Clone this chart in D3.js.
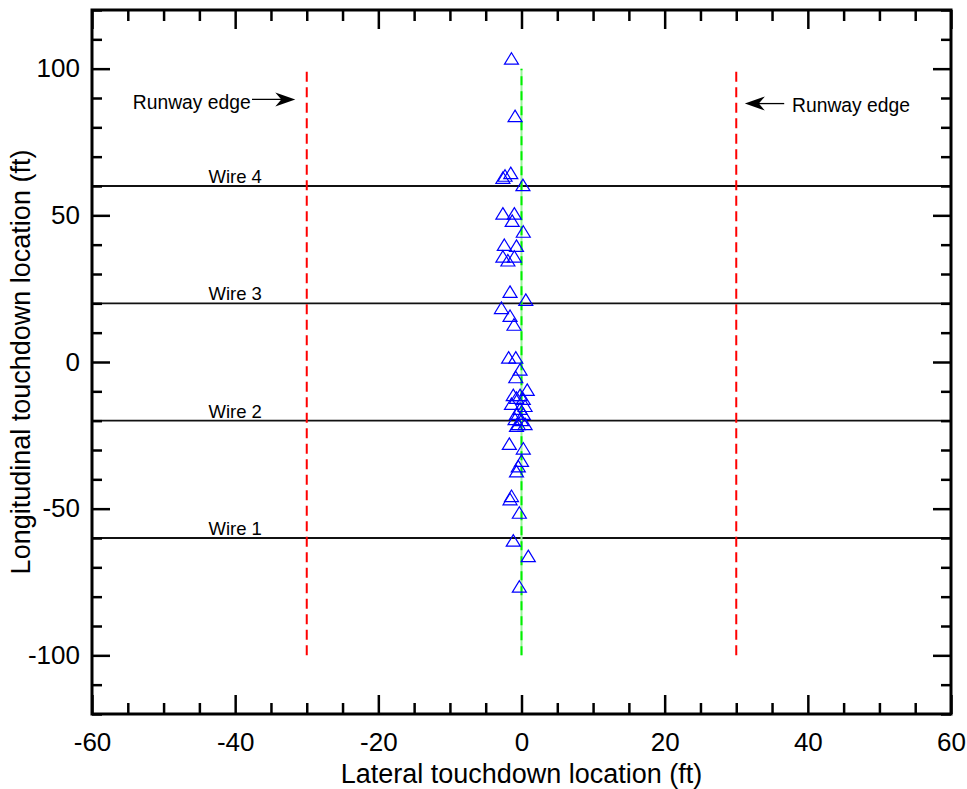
<!DOCTYPE html>
<html>
<head>
<meta charset="utf-8">
<script src="https://cdn.jsdelivr.net/npm/d3@7"></script>
<style>
  html, body { margin: 0; padding: 0; background: #fff; }
  svg { display: block; font-family: "Liberation Sans", Arial, Helvetica, sans-serif; }
</style>
</head>
<body>
<svg id="chart" width="967" height="789"></svg>
<script>
// ---- data ----
const lateralX = [
  -1.4, -0.9, -2.6, -2.3, -1.5, 0.2, -2.6, -1.0, -1.3, 0.25,
  -2.4, -0.7, -2.6, -1.0, -1.9, -1.6, 0.6, -2.8, -1.6, -1.05,
  -1.8, -0.8, -0.2, -0.8, 0.8, -1.15, -0.2, -0.7, 0.25, -1.4,
  0.5, -0.2, 0.25, -0.7, -0.9, 0.0, 0.5, -0.45, -0.7, -1.7,
  0.25, 0.0, -0.45, -0.7, -1.4, -1.6, -0.3, -1.15, 0.95, -0.3
];
const longitudinalY = [
  103.4, 83.8, 62.8, 63.5, 64.4, 60.3, 50.6, 50.6, 48.1, 44.4,
  39.9, 39.6, 35.9, 35.9, 34.6, 23.9, 21.2, 18.4, 15.7, 12.7,
  1.5, 1.5, -2.6, -5.2, -9.5, -11.3, -11.3, -12.2, -12.6, -14.3,
  -15.0, -16.0, -17.7, -17.7, -19.5, -19.8, -21.2, -21.2, -21.8, -27.9,
  -29.5, -33.7, -35.6, -37.3, -45.7, -46.8, -51.4, -60.9, -66.2, -76.6
];
const wireNames = ["Wire 1", "Wire 2", "Wire 3", "Wire 4"];
const wireY = [-60, -20, 20, 60];
const runwayEdgeX = [-30, 30];
const centerlineX = [0];
const guideYRange = [-100, 100];
const xMajorTicks = [-60, -40, -20, 0, 20, 40, 60];
const yMajorTicks = [-100, -50, 0, 50, 100];
const xTitle = "Lateral touchdown location (ft)";
const yTitle = "Longitudinal touchdown location (ft)";
const edgeLabel = "Runway edge";

// ---- layout ----
const svg = d3.select("#chart");
const x = d3.scaleLinear().domain([-60, 60]).range([92, 951]);
const y = d3.scaleLinear().domain([-120, 120]).range([714, 10]);
const xMinor = d3.range(-60, 60.001, 5).filter(v => v % 20 !== 0);
const yMinor = d3.range(-120, 120.001, 10).filter(v => v % 50 !== 0);
const fmt = d => String(d);

const g = svg.append("g");

// wires
g.selectAll("line.wire").data(wireY).join("line")
  .attr("class", "wire")
  .attr("x1", x(-60)).attr("x2", x(60))
  .attr("y1", d => y(d)).attr("y2", d => y(d))
  .attr("stroke", "#111").attr("stroke-width", 1.8);

g.selectAll("text.wire").data(wireY).join("text")
  .attr("class", "wire")
  .attr("x", x(-40)).attr("y", d => y(d) - 3)
  .attr("text-anchor", "middle")
  .attr("font-size", 18.5)
  .attr("fill", "#000")
  .text((d, i) => wireNames[i]);

// runway edges
g.selectAll("line.edge").data(runwayEdgeX).join("line")
  .attr("class", "edge")
  .attr("x1", d => x(d)).attr("x2", d => x(d))
  .attr("y1", y(guideYRange[0])).attr("y2", y(guideYRange[1]))
  .attr("stroke", "#ff0000").attr("stroke-width", 2)
  .attr("stroke-dasharray", "10,5.5");

// centerline
g.selectAll("line.cl-bg").data(centerlineX).join("line")
  .attr("class", "cl-bg")
  .attr("x1", d => x(d)).attr("x2", d => x(d))
  .attr("y1", y(guideYRange[0])).attr("y2", y(guideYRange[1]))
  .attr("stroke", "#9cf59c").attr("stroke-width", 2);
g.selectAll("line.cl").data(centerlineX).join("line")
  .attr("class", "cl")
  .attr("x1", d => x(d)).attr("x2", d => x(d))
  .attr("y1", y(guideYRange[0])).attr("y2", y(guideYRange[1]))
  .attr("stroke", "#00f000").attr("stroke-width", 2)
  .attr("stroke-dasharray", "9,6");

// runway edge annotations
function arrow(x1, x2, yy) {
  const dir = Math.sign(x2 - x1);
  const px1 = x(x1), px2 = x(x2), py = y(yy);
  g.append("line")
    .attr("x1", px1).attr("x2", px2 - dir * 12).attr("y1", py).attr("y2", py)
    .attr("stroke", "#000").attr("stroke-width", 1.3);
  g.append("path")
    .attr("d", `M${px2},${py} L${px2 - dir * 20},${py - 7} L${px2 - dir * 14},${py} L${px2 - dir * 20},${py + 7} Z`)
    .attr("fill", "#000");
}
g.append("text").attr("x", x(-54.3)).attr("y", y(86.2))
  .attr("font-size", 19.3).attr("fill", "#000").text(edgeLabel);
arrow(-37.65, -31.6, 89.5);
g.append("text").attr("x", x(37.8)).attr("y", y(85.1))
  .attr("font-size", 19.3).attr("fill", "#000").text(edgeLabel);
arrow(36.7, 31.2, 88.1);

// data points: open triangles
const pts = lateralX.map((v, i) => [v, longitudinalY[i]]);
svg.append("g").selectAll("path").data(pts).join("path")
  .attr("transform", d => `translate(${x(d[0])},${y(d[1])})`)
  .attr("d", "M0,-6 L7,5.5 L-7,5.5 Z")
  .attr("fill", "none").attr("stroke", "#0000ff").attr("stroke-width", 1.2);

// axes
const tickW = 2.5;
function styleAxis(sel) {
  sel.select(".domain").remove();
  sel.selectAll(".tick line").attr("stroke", "#000").attr("stroke-width", tickW);
  sel.selectAll(".tick text").attr("font-size", 26).attr("fill", "#000")
    .attr("font-family", "'Liberation Sans', Arial, sans-serif");
}
// bottom
svg.append("g").attr("transform", `translate(0,${y(-120)})`)
  .call(d3.axisBottom(x).tickValues(xMinor).tickSize(-11).tickFormat(""))
  .call(styleAxis);
svg.append("g").attr("transform", `translate(0,${y(-120)})`)
  .call(d3.axisBottom(x).tickValues(xMajorTicks).tickSize(-19).tickPadding(19).tickFormat(fmt))
  .call(styleAxis);
// top
svg.append("g").attr("transform", `translate(0,${y(120)})`)
  .call(d3.axisTop(x).tickValues(xMinor).tickSize(-11).tickFormat(""))
  .call(styleAxis);
svg.append("g").attr("transform", `translate(0,${y(120)})`)
  .call(d3.axisTop(x).tickValues(xMajorTicks).tickSize(-19).tickFormat(""))
  .call(styleAxis);
// left
svg.append("g").attr("transform", `translate(${x(-60)},0)`)
  .call(d3.axisLeft(y).tickValues(yMinor).tickSize(-10).tickFormat(""))
  .call(styleAxis);
svg.append("g").attr("transform", `translate(${x(-60)},0)`)
  .call(d3.axisLeft(y).tickValues(yMajorTicks).tickSize(-18).tickPadding(12).tickFormat(fmt))
  .call(styleAxis);
// right
svg.append("g").attr("transform", `translate(${x(60)},0)`)
  .call(d3.axisRight(y).tickValues(yMinor).tickSize(-10).tickFormat(""))
  .call(styleAxis);
svg.append("g").attr("transform", `translate(${x(60)},0)`)
  .call(d3.axisRight(y).tickValues(yMajorTicks).tickSize(-18).tickFormat(""))
  .call(styleAxis);

// frame
svg.append("rect")
  .attr("x", x(-60)).attr("y", y(120))
  .attr("width", x(60) - x(-60)).attr("height", y(-120) - y(120))
  .attr("fill", "none").attr("stroke", "#000").attr("stroke-width", 3);

// titles
svg.append("text")
  .attr("x", (x(-60) + x(60)) / 2).attr("y", 783)
  .attr("text-anchor", "middle").attr("font-size", 27).attr("fill", "#000")
  .text(xTitle);
svg.append("text")
  .attr("transform", `translate(30,${y(0)}) rotate(-90)`)
  .attr("text-anchor", "middle").attr("font-size", 27).attr("fill", "#000")
  .text(yTitle);
</script>
</body>
</html>
